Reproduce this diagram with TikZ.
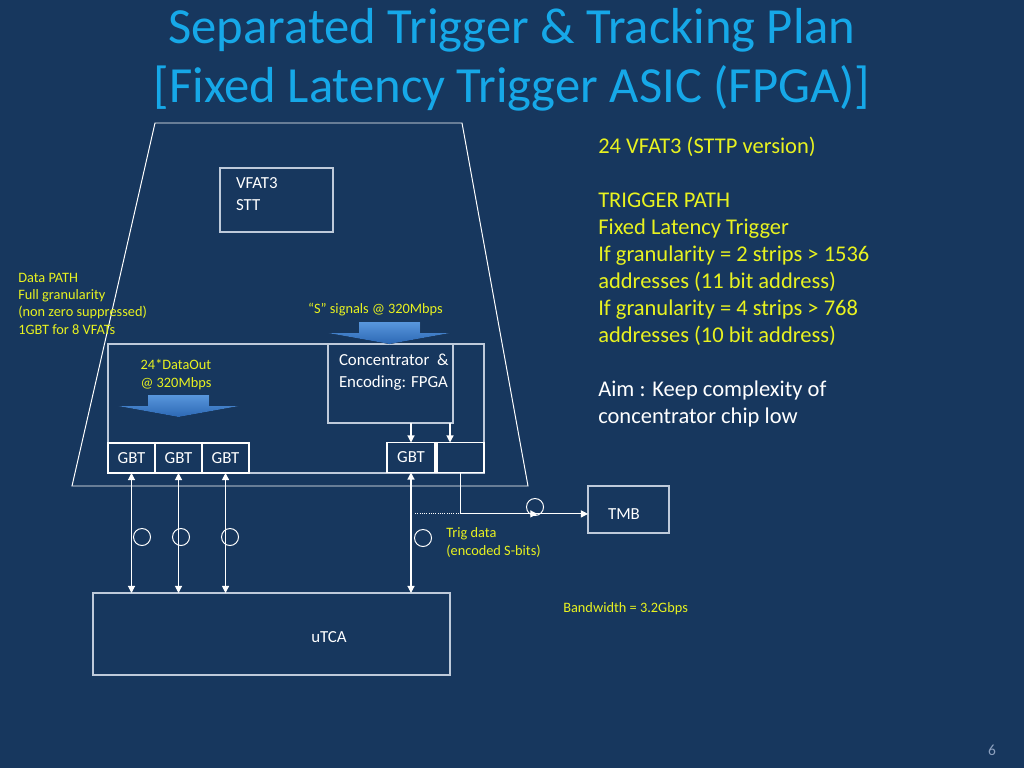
\documentclass[tikz,border=0pt]{standalone}
\usepackage{fontspec}
\setmainfont{Carlito}
\usetikzlibrary{arrows.meta,positioning,decorations.markings}

\definecolor{slidebg}{RGB}{23,55,94}
\definecolor{titleblue}{RGB}{22,168,232}
\definecolor{noteyellow}{RGB}{232,242,32}
\definecolor{boxline}{RGB}{190,202,218}
\definecolor{arrowtop}{RGB}{88,150,220}
\definecolor{arrowbot}{RGB}{44,104,180}
\definecolor{pagegray}{RGB}{140,160,190}

\begin{document}
\begin{tikzpicture}[
  x=0.025cm, y=-0.025cm,
  box/.style={draw=boxline, line width=0.8pt, inner sep=0pt, outer sep=0pt,
              text=white, font=\fontsize{12}{15}\selectfont},
  gbt/.style={draw=white, line width=0.8pt, inner sep=0pt, outer sep=0pt,
              minimum width=1.175cm, minimum height=0.75cm,
              text=white, font=\fontsize{12}{12}\selectfont},
  ring/.style={circle, draw=white, line width=0.7pt, minimum size=0.425cm, inner sep=0pt},
  note/.style={text=noteyellow, align=left, inner sep=0pt, anchor=base west,
               font=\fontsize{10.2}{12.1}\selectfont},
  bullet/.style={align=left, inner sep=0pt, anchor=base west,
                 font=\fontsize{16}{19.2}\selectfont},
  link/.style={white, line width=0.8pt,
               {Triangle[width=5pt,length=5pt]}-{Triangle[width=5pt,length=5pt]}},
  arr/.style={white, line width=0.8pt, -{Triangle[width=5pt,length=5pt]}},
  bigarrow/.style={top color=arrowtop, bottom color=arrowbot, draw=none}
]
% slide background
\fill[slidebg] (0,0) rectangle (1024,768);

% title
\node[text=titleblue, font=\fontsize{36}{40}\selectfont] (title1) at (512,30) {Separated Trigger \& Tracking Plan};
\node[text=titleblue, font=\fontsize{36}{40}\selectfont] (title2) at (512,88) {[Fixed Latency Trigger ASIC (FPGA)]};

% chamber outline
\draw[white, line width=0.7pt] (155,123) -- (462,123) -- (528,486) -- (72,486) -- cycle;
\draw[boxline, line width=0.8pt] (108,344) rectangle (484,473);

% boxes
\node[box, minimum width=2.825cm, minimum height=1.6cm] (vfat) at (276.5,200) {};
\node[box, anchor=base west, draw=none, align=left] at (236,210) {VFAT3\\STT};

\node[box, minimum width=3.125cm, minimum height=1.975cm] (conc) at (390.5,383.5) {};
\node[box, anchor=base west, draw=none, align=left] at (339,387) {Concentrator~~\&\\Encoding: FPGA};

\node[gbt] (g1) at (131.5,458) {GBT};
\node[gbt, right=0pt of g1] (g2) {GBT};
\node[gbt, right=0pt of g2] (g3) {GBT};
\node[gbt, minimum width=1.2cm] (g4) at (411,457.5) {GBT};
\node[gbt, right=0.05cm of g4] (trig) {};

\node[box, minimum width=2.025cm, minimum height=1.175cm] (tmb) at (628.5,509.5) {};
\node[text=white, font=\fontsize{12}{12}\selectfont] at (624,514) {TMB};

\node[box, minimum width=8.925cm, minimum height=2.05cm] (utca) at (271.5,634) {};
\node[text=white, font=\fontsize{12}{12}\selectfont] at (329,637) {uTCA};

% block arrows
\fill[bigarrow] (148,395) -- (209,395) -- (209,406) -- (239,406) -- (178.5,417)
  -- (118,406) -- (148,406) -- cycle;
\fill[bigarrow] (359,322) -- (420,322) -- (420,333) -- (450,333) -- (389.5,344)
  -- (328,333) -- (359,333) -- cycle;

% links to uTCA
\foreach \g in {g1,g2,g3,g4}
  \draw[link] (\g.south) -- (\g.south |- utca.north);

\draw[arr] (conc.south -| g4.north) -- (g4.north);
\draw[arr] ([xshift=-0.075cm]conc.south east) -- ([xshift=-0.075cm]conc.south east |- trig.north);

% trigger path to TMB
\coordinate (turn) at ([yshift=-0.11cm]tmb.west -| trig.south);
\draw[arr, postaction={decorate}, decoration={markings,
      mark=at position 0.7 with {\arrow{Triangle[width=5pt,length=5pt]}}}]
  (trig.south) -- (turn) -- ([yshift=-0.11cm]tmb.west);
\draw[white, line width=0.6pt, densely dotted] ([xshift=0.1cm]g4.south |- turn) -- (turn);

% fibres
\node[ring] (r1) at (142,537) {};
\node[ring] (r2) at (181,537) {};
\node[ring] (r3) at (230,537) {};
\node[ring] (r4) at (423,538) {};
\node[ring] (r5) at (535,507) {};

% notes
\node[note] (datapath) at (18,334) {Data PATH\\Full granularity\\(non zero suppressed)\\1GBT for 8 VFATs};
\node[note, align=center, anchor=base] (dataout) at (176,387) {24*DataOut\\@ 320Mbps};
\node[note, anchor=base] (ssig) at (375.5,313) {``S'' signals @ 320Mbps};
\node[note] (trigdata) at (446,555) {Trig data\\(encoded S-bits)};
\node[note] (bw) at (563,612) {Bandwidth = 3.2Gbps};

\node[bullet, text=noteyellow] (plan) at (598,342) {24 VFAT3 (STTP version)\\[19.2pt]TRIGGER PATH\\Fixed Latency Trigger\\If granularity = 2 strips > 1536\\addresses (11 bit address)\\If granularity = 4 strips > 768\\addresses (10 bit address)};
\node[bullet, text=white] (aim) at (598,423) {Aim : Keep complexity of\\concentrator chip low};

\node[text=pagegray, font=\fontsize{11}{12}\selectfont] (page) at (992,750) {6};
\end{tikzpicture}
\end{document}
